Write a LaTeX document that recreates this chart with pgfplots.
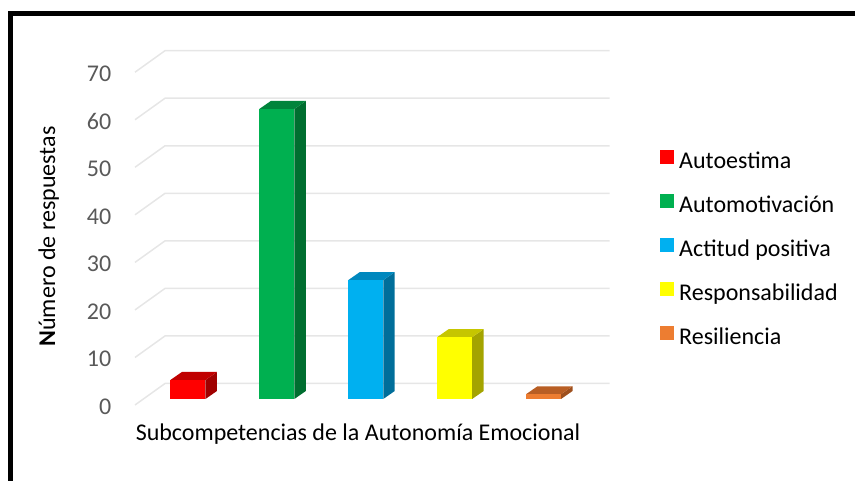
\documentclass[border=0pt]{standalone}
\usepackage{pgfplots}
\pgfplotsset{compat=1.18}
\usepackage{fontspec}
\setmainfont{Carlito}

\definecolor{redF}{HTML}{FF0000}\definecolor{redT}{HTML}{C00000}\definecolor{redS}{HTML}{A00000}
\definecolor{grnF}{HTML}{00B050}\definecolor{grnT}{HTML}{00843B}\definecolor{grnS}{HTML}{006E30}
\definecolor{bluF}{HTML}{00B0F0}\definecolor{bluT}{HTML}{0088BE}\definecolor{bluS}{HTML}{006E9A}
\definecolor{yelF}{HTML}{FFFF00}\definecolor{yelT}{HTML}{C6C600}\definecolor{yelS}{HTML}{A4A400}
\definecolor{orgF}{HTML}{ED7D31}\definecolor{orgT}{HTML}{B85E24}\definecolor{orgS}{HTML}{9E501E}
\definecolor{tickc}{HTML}{595959}
\definecolor{gridc}{HTML}{E6E6E6}

% half bar width, depth offset (axis units)
\newcommand\bw{0.197}
\newcommand\dpx{0.129}
\newcommand\dpy{1.68}

\pgfplotsset{sqlegend/.style={legend image code/.code={\fill[##1] (0bp,-1bp) rectangle (14bp,13bp);}}}

% x, value, front, top, side
\newcommand\cubebar[5]{%
  \pgfmathsetmacro\xl{#1-\bw}%
  \pgfmathsetmacro\xr{#1+\bw}%
  \pgfmathsetmacro\xld{#1-\bw+\dpx}%
  \pgfmathsetmacro\xrd{#1+\bw+\dpx}%
  \pgfmathsetmacro\vt{#2+\dpy}%
  \addplot[forget plot, fill=#5, draw=none] coordinates {(\xr,0) (\xr,#2) (\xrd,\vt) (\xrd,\dpy)};
  \addplot[forget plot, fill=#4, draw=none] coordinates {(\xl,#2) (\xr,#2) (\xrd,\vt) (\xld,\vt)};
  \addplot[ybar, bar width=0.394, bar shift=0pt, fill=#3, draw=none, sqlegend] coordinates {(#1,#2)};
}

\begin{document}
\fontsize{24bp}{29bp}\selectfont
\begin{tikzpicture}[x=1bp, y=1bp]
\path[use as bounding box] (0,0) rectangle (855,481);
\draw[line width=5bp, line join=miter] (10.5,0) -- (10.5,467.5) -- (855,467.5);

\begin{axis}[
  at={(143.5bp,82bp)}, anchor=south west,
  scale only axis, width=444.5bp, height=332.8bp,
  xmin=-0.5, xmax=4.5, ymin=0, ymax=70,
  clip=false,
  axis line style={draw=none},
  tick style={draw=none},
  major tick length=0pt,
  xtick=\empty,
  ytick={0,10,...,70},
  yticklabels={0,10,20,30,40,50,60,70},
  yticklabel style={anchor=east, inner sep=0pt, xshift=-32bp, yshift=-7.5bp,
    text=tickc, font=\fontsize{24bp}{29bp}\selectfont},
  legend style={at={(1.162,0.748)}, anchor=north west, draw=none, fill=none,
    inner sep=0pt, row sep=19.4bp, font=\fontsize{24bp}{29bp}\selectfont,
    nodes={inner sep=0pt, text height=17bp, text depth=6bp},
    /tikz/every odd column/.append style={column sep=5bp}},
  legend cell align=left,
]
\pgfplotsinvokeforeach{0,10,...,70}{
  \draw[gridc, line width=1.5bp] (axis cs:-0.5956,#1-1.262) -- (axis cs:-0.258,#1+3.26) -- (axis cs:4.742,#1+3.26);
}
\cubebar{0}{4}{redF}{redT}{redS}
\addlegendentry{Autoestima}
\cubebar{1}{61}{grnF}{grnT}{grnS}
\addlegendentry{Automotivación}
\cubebar{2}{25}{bluF}{bluT}{bluS}
\addlegendentry{Actitud positiva}
\cubebar{3}{13}{yelF}{yelT}{yelS}
\addlegendentry{Responsabilidad}
\cubebar{4}{1}{orgF}{orgT}{orgS}
\addlegendentry{Resiliencia}
\end{axis}

\node[anchor=base] at (358bp,40bp) {Subcompetencias de la Autonomía Emocional};
\node[rotate=90, anchor=base] at (55bp,244.5bp) {\textbf{N}úmero de respuestas};
\end{tikzpicture}
\end{document}
